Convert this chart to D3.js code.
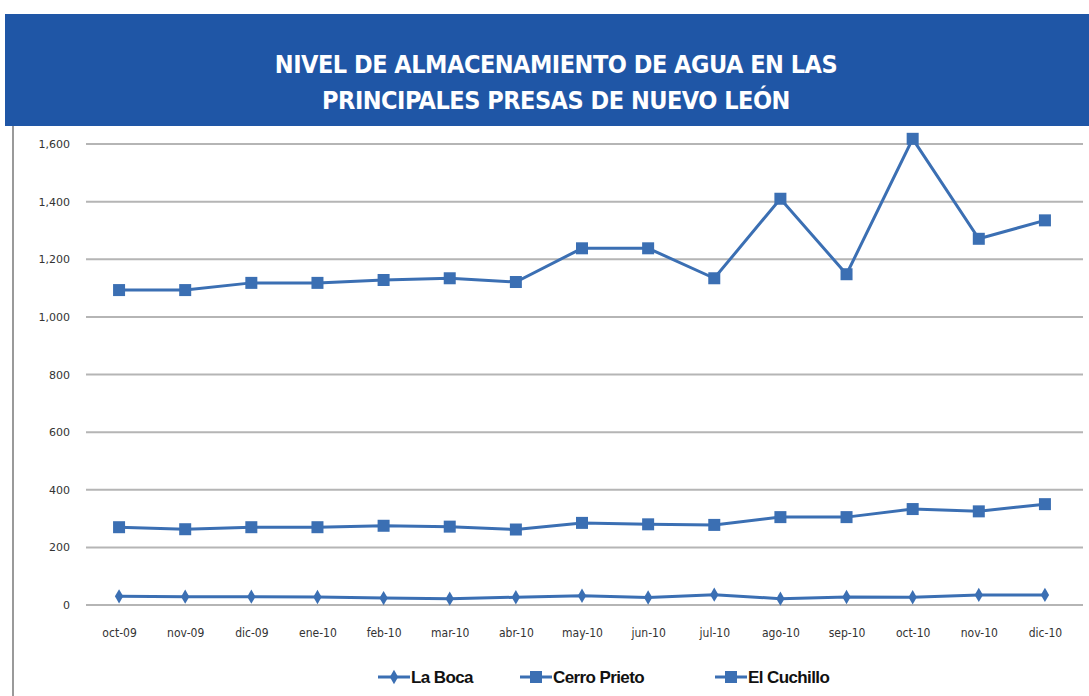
<!DOCTYPE html>
<html>
<head>
<meta charset="utf-8">
<script src="https://cdn.jsdelivr.net/npm/d3@7"></script>
<style>
  body { margin: 0; background: #fff; }
  svg { display: block; }
</style>
</head>
<body>
<svg id="chart"></svg>
<script>
const WIDTH = 1089, HEIGHT = 696;

// data
const months = ["oct-09", "nov-09", "dic-09", "ene-10", "feb-10", "mar-10", "abr-10", "may-10",
                "jun-10", "jul-10", "ago-10", "sep-10", "oct-10", "nov-10", "dic-10"];
const laBoca = [30, 29, 29, 28, 24, 22, 27, 32, 26, 36, 22, 28, 27, 35, 35];
const cerroPrieto = [270, 263, 270, 270, 275, 272, 262, 285, 280, 278, 305, 305, 333, 325, 350];
const elCuchillo = [1093, 1093, 1118, 1118, 1128, 1134, 1121, 1238, 1238, 1134, 1410, 1148, 1618, 1271, 1335];
const yTicks = [0, 200, 400, 600, 800, 1000, 1200, 1400, 1600];
const titleLines = ["NIVEL DE ALMACENAMIENTO DE AGUA EN LAS", "PRINCIPALES PRESAS DE NUEVO LEÓN"];

const series = [
    { name: "La Boca", values: laBoca, marker: "diamond" },
    { name: "Cerro Prieto", values: cerroPrieto, marker: "square" },
    { name: "El Cuchillo", values: elCuchillo, marker: "square" }
];

const COLOR = "#3b6fb3";
const margin = { left: 86, right: 11, top: 144, bottom: 91 };

const svg = d3.select("#chart")
    .attr("width", WIDTH)
    .attr("height", HEIGHT);

// title band
svg.append("rect")
    .attr("x", 5).attr("y", 14)
    .attr("width", WIDTH - 5).attr("height", 112)
    .attr("fill", "#1f56a6");

svg.append("line")
    .attr("x1", 13).attr("x2", 13)
    .attr("y1", 126).attr("y2", HEIGHT)
    .attr("stroke", "#9a9a9a")
    .attr("stroke-width", 2);

svg.selectAll("text.title")
    .data(titleLines)
    .enter()
    .append("text")
        .attr("class", "title")
        .attr("x", 556)
        .attr("y", (d, i) => 73 + i * 36)
        .attr("text-anchor", "middle")
        .attr("fill", "#fff")
        .style("font-family", "'Liberation Sans Narrow', 'DejaVu Sans Condensed', sans-serif")
        .style("font-weight", "bold")
        .style("font-size", "25px")
        .style("letter-spacing", "-0.5px")
        .text(d => d);

var x = d3.scalePoint()
    .domain(months)
    .range([margin.left, WIDTH - margin.right])
    .padding(0.5);

var y = d3.scaleLinear()
    .domain([0, 1600])
    .range([HEIGHT - margin.bottom, margin.top]);

// gridlines
svg.append("g")
    .selectAll("line")
    .data(yTicks)
    .enter()
    .append("line")
        .attr("x1", margin.left)
        .attr("x2", WIDTH - margin.right + 5)
        .attr("y1", d => y(d))
        .attr("y2", d => y(d))
        .attr("stroke", "#b5b5b5")
        .attr("stroke-width", 2);

// y axis labels
var yAxis = svg.append("g")
    .attr("transform", "translate(" + 70 + ",0)")
    .call(d3.axisLeft(y).tickValues(yTicks).tickFormat(d3.format(",")).tickSize(0).tickPadding(0));
yAxis.select(".domain").remove();
yAxis.selectAll("text")
    .attr("fill", "#333")
    .style("font-family", "'DejaVu Sans', sans-serif")
    .style("font-size", "11px");

// x axis labels
var xAxis = svg.append("g")
    .attr("transform", "translate(0," + (HEIGHT - margin.bottom) + ")")
    .call(d3.axisBottom(x).tickSize(0).tickPadding(23));
xAxis.select(".domain").remove();
xAxis.selectAll("text")
    .attr("fill", "#333")
    .style("font-family", "'DejaVu Sans Condensed', 'DejaVu Sans', sans-serif")
    .style("font-size", "12px");

var line = d3.line()
    .x((d, i) => x(months[i]))
    .y(d => y(d));

var diamond = d3.symbol().type(d3.symbolDiamond).size(60);

function drawMarker(g, type, cx, cy) {
    if (type === "diamond") {
        g.append("path")
            .attr("d", diamond())
            .attr("transform", "translate(" + cx + "," + cy + ")")
            .attr("fill", COLOR);
    } else {
        g.append("rect")
            .attr("x", cx - 6).attr("y", cy - 6)
            .attr("width", 12).attr("height", 12)
            .attr("fill", COLOR);
    }
}

series.forEach(function (s) {
    var g = svg.append("g");
    g.append("path")
        .datum(s.values)
        .attr("d", line)
        .attr("fill", "none")
        .attr("stroke", COLOR)
        .attr("stroke-width", 3);
    s.values.forEach((v, i) => drawMarker(g, s.marker, x(months[i]), y(v)));
});

// legend
var legendPos = [378, 520, 715];
var legend = svg.append("g")
    .selectAll("g")
    .data(series)
    .enter()
    .append("g")
        .attr("transform", (d, i) => "translate(" + legendPos[i] + "," + 677 + ")");

legend.append("line")
    .attr("x1", 0).attr("x2", 32)
    .attr("stroke", COLOR)
    .attr("stroke-width", 3);
legend.each(function (d) {
    drawMarker(d3.select(this), d.marker, 16, 0);
});
legend.append("text")
    .attr("x", 33)
    .attr("y", 6)
    .attr("fill", "#111")
    .style("font-family", "'Liberation Sans', Arial, sans-serif")
    .style("font-weight", "bold")
    .style("font-size", "17px")
    .style("letter-spacing", "-0.6px")
    .text(d => d.name);
</script>
</body>
</html>
